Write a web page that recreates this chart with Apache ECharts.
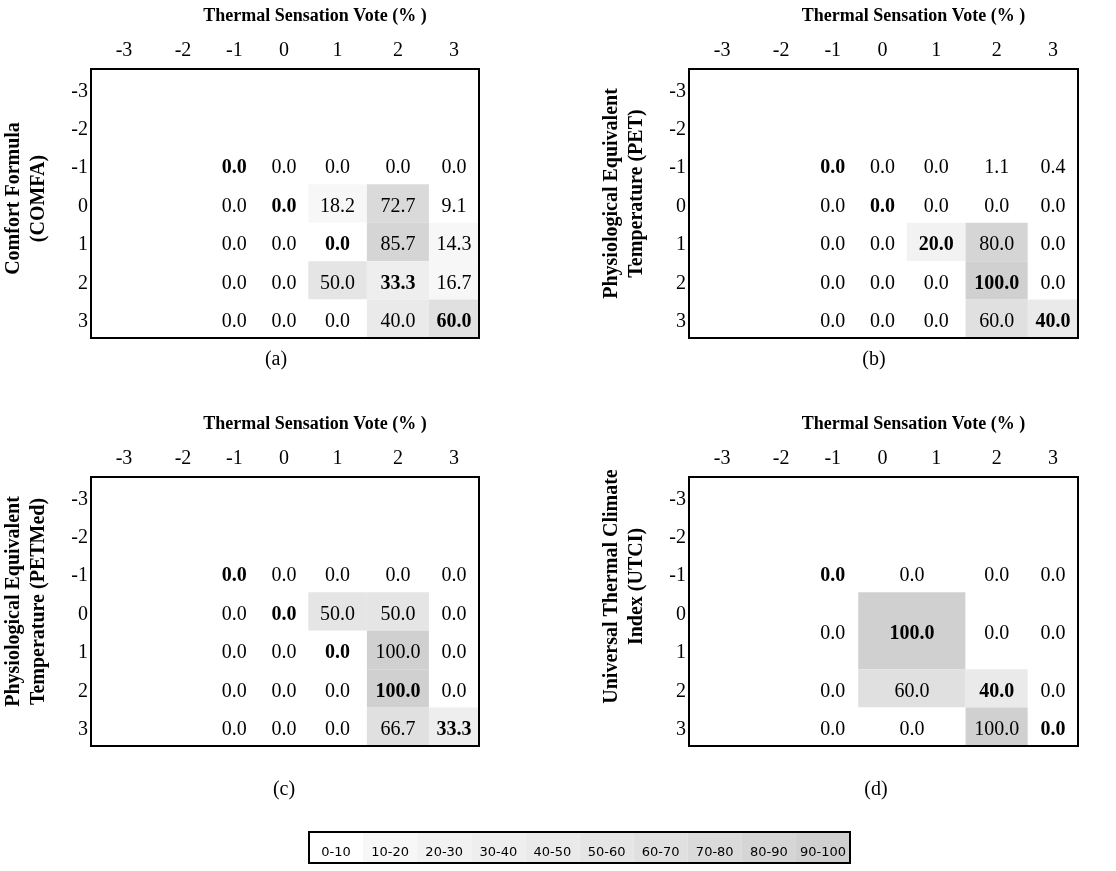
<!DOCTYPE html>
<html><head><meta charset="utf-8">
<script src="https://cdn.jsdelivr.net/npm/echarts@6/dist/echarts.min.js"></script>
<style>html,body{margin:0;padding:0;background:#fff}#c{width:1116px;height:871px}</style>
</head><body><div id="c"></div>
<script>
// ---------- DATA ----------
const xLabels = ['-3', '-2', '-1', '0', '1', '2', '3'];
const yLabels = ['-3', '-2', '-1', '0', '1', '2', '3'];
const xTitle = 'Thermal Sensation Vote (% )';
const yTitles = ['Comfort Formula\n(COMFA)', 'Physiological Equivalent\nTemperature (PET)',
  'Physiological Equivalent\nTemperature (PETMed)', 'Universal Thermal Climate\nIndex (UTCI)'];
const panelTags = ['(a)', '(b)', '(c)', '(d)'];
// matrices: rows = index vote -1..3 (top to bottom), cols = TSV -1..3
const matrixLabels = ['-1', '0', '1', '2', '3'];
const comfa = [
  [0.0, 0.0, 0.0, 0.0, 0.0],
  [0.0, 0.0, 18.2, 72.7, 9.1],
  [0.0, 0.0, 0.0, 85.7, 14.3],
  [0.0, 0.0, 50.0, 33.3, 16.7],
  [0.0, 0.0, 0.0, 40.0, 60.0]
];
const pet = [
  [0.0, 0.0, 0.0, 1.1, 0.4],
  [0.0, 0.0, 0.0, 0.0, 0.0],
  [0.0, 0.0, 20.0, 80.0, 0.0],
  [0.0, 0.0, 0.0, 100.0, 0.0],
  [0.0, 0.0, 0.0, 60.0, 40.0]
];
const petmed = [
  [0.0, 0.0, 0.0, 0.0, 0.0],
  [0.0, 0.0, 50.0, 50.0, 0.0],
  [0.0, 0.0, 0.0, 100.0, 0.0],
  [0.0, 0.0, 0.0, 100.0, 0.0],
  [0.0, 0.0, 0.0, 66.7, 33.3]
];
// UTCI has merged categories: [tsvFrom, tsvTo, utciFrom, utciTo, value]
const utci = [
  ['-1', '-1', '-1', '-1', 0.0], ['0', '1', '-1', '-1', 0.0], ['2', '2', '-1', '-1', 0.0], ['3', '3', '-1', '-1', 0.0],
  ['-1', '-1', '0', '1', 0.0], ['0', '1', '0', '1', 100.0], ['2', '2', '0', '1', 0.0], ['3', '3', '0', '1', 0.0],
  ['-1', '-1', '2', '2', 0.0], ['0', '1', '2', '2', 60.0], ['2', '2', '2', '2', 40.0], ['3', '3', '2', '2', 0.0],
  ['-1', '-1', '3', '3', 0.0], ['0', '1', '3', '3', 0.0], ['2', '2', '3', '3', 100.0], ['3', '3', '3', '3', 0.0]
];
const legendLabels = ['0-10', '10-20', '20-30', '30-40', '40-50', '50-60', '60-70', '70-80', '80-90', '90-100'];

// ---------- LAYOUT / STYLE ----------
const COL_FRAC = [0.170, 0.134, 0.131, 0.125, 0.151, 0.160, 0.129]; // relative column widths
const SHADES = ['#ffffff', '#f7f7f7', '#f2f2f2', '#eeeeee', '#eaeaea', '#e5e5e5', '#e0e0e0', '#dadada', '#d5d5d5', '#d0d0d0'];
const SERIF = '"Liberation Serif", "Times New Roman", serif';
const PANELS = [
  { left: 90, top: 69, titleShift: 5 },
  { left: 689, top: 69, titleShift: 10 },
  { left: 90, top: 477, titleShift: 10 },
  { left: 689, top: 477, titleShift: 25 }
];
const GW = 389, GH = 269;
const TAG_POS = [[276, 360], [874, 360], [284, 790], [876, 790]];
const TEXT_DY = 3;

const edges = [0];
COL_FRAC.forEach(w => edges.push(edges[edges.length - 1] + w));
const centers = COL_FRAC.map((w, i) => edges[i] + w / 2);
function shadeOf(v) { return SHADES[Math.min(9, Math.floor(v / 10))]; }

function cellsFromMatrix(m) {
  const out = [];
  m.forEach((row, r) => row.forEach((v, c) => {
    out.push([matrixLabels[c], matrixLabels[c], matrixLabels[r], matrixLabels[r], v]);
  }));
  return out;
}
function toSeriesData(cells) {
  return cells.map(([c0, c1, r0, r1, v]) => {
    const ci0 = xLabels.indexOf(c0), ci1 = xLabels.indexOf(c1);
    const ri0 = yLabels.indexOf(r0), ri1 = yLabels.indexOf(r1);
    const bold = (ci0 <= ri1 && ri0 <= ci1) ? 1 : 0; // cell spans the diagonal
    return [edges[ci0], edges[ci1 + 1], ri0, ri1 + 1, v, bold];
  });
}
const panelCells = [cellsFromMatrix(comfa), cellsFromMatrix(pet), cellsFromMatrix(petmed), utci];

function renderCell(params, api) {
  const p0 = api.coord([api.value(0), api.value(2)]);
  const p1 = api.coord([api.value(1), api.value(3)]);
  const v = api.value(4), bold = api.value(5);
  const x = Math.min(p0[0], p1[0]), y = Math.min(p0[1], p1[1]);
  const w = Math.abs(p1[0] - p0[0]), h = Math.abs(p1[1] - p0[1]);
  return {
    type: 'group',
    children: [
      { type: 'rect', shape: { x, y, width: w, height: h }, style: { fill: shadeOf(v) } },
      { type: 'text', x: x + w / 2, y: y + h / 2 + TEXT_DY,
        style: { text: v.toFixed(1), fill: '#000', align: 'center', verticalAlign: 'middle',
          font: (bold ? 'bold ' : '') + '20px ' + SERIF } }
    ]
  };
}

const grid = [], xAxis = [], yAxis = [], series = [], graphic = [];
PANELS.forEach((p, i) => {
  grid.push({ left: p.left, top: p.top, width: GW, height: GH, show: true, z: 5,
    backgroundColor: 'transparent', borderColor: '#000', borderWidth: 2 });
  xAxis.push({
    type: 'value', gridIndex: i, position: 'top', min: 0, max: 1,
    axisLine: { show: false }, axisTick: { show: false }, splitLine: { show: false },
    axisLabel: { customValues: centers, margin: 8, color: '#000', fontSize: 20, fontFamily: SERIF,
      formatter: v => { let b = 0; centers.forEach((c, k) => { if (Math.abs(c - v) < Math.abs(centers[b] - v)) b = k; }); return xLabels[b]; } },
    name: xTitle, nameLocation: 'middle', nameGap: 44, nameMoveOverlap: false,
    nameTextStyle: { color: '#000', fontWeight: 'bold', fontSize: 18, fontFamily: SERIF, padding: [0, 0, 0, 60] }
  });
  yAxis.push({
    type: 'value', gridIndex: i, inverse: true, min: 0, max: 7,
    axisLine: { show: false }, axisTick: { show: false }, splitLine: { show: false },
    axisLabel: { customValues: yLabels.map((_, k) => k + 0.58), margin: 3, color: '#000', fontSize: 20, fontFamily: SERIF,
      formatter: v => yLabels[Math.floor(v)] },
    name: yTitles[i], nameLocation: 'middle', nameRotate: 90, nameGap: 40, nameMoveOverlap: false,
    nameTextStyle: { color: '#000', fontWeight: 'bold', fontSize: 20, lineHeight: 25, fontFamily: SERIF,
      padding: [0, 0, 0, 2 * p.titleShift] }
  });
  series.push({ type: 'custom', xAxisIndex: i, yAxisIndex: i, renderItem: renderCell,
    data: toSeriesData(panelCells[i]), clip: false, silent: true });
  graphic.push({ type: 'text', x: TAG_POS[i][0], y: TAG_POS[i][1],
    style: { text: panelTags[i], font: '20px ' + SERIF, fill: '#000', align: 'center', verticalAlign: 'middle' } });
});

// colour key as its own small grid
grid.push({ left: 309, top: 832, width: 541, height: 31, show: true, z: 5,
  backgroundColor: 'transparent', borderColor: '#000', borderWidth: 2 });
xAxis.push({ type: 'category', gridIndex: 4, data: legendLabels, show: false });
yAxis.push({ type: 'value', gridIndex: 4, min: 0, max: 1, show: false });
series.push({
  type: 'custom', xAxisIndex: 4, yAxisIndex: 4, silent: true,
  data: legendLabels.map((l, k) => [k, k * 10 + 5]),
  renderItem: (params, api) => {
    const c = api.coord([api.value(0), 1]);
    const c0 = api.coord([api.value(0), 0]);
    const bw = api.size([1, 0])[0];
    return { type: 'group', children: [
      { type: 'rect', shape: { x: c[0] - bw / 2, y: c[1], width: bw, height: c0[1] - c[1] }, style: { fill: shadeOf(api.value(1)) } },
      { type: 'text', x: c[0], y: c[1] + (c0[1] - c[1]) * 0.65,
        style: { text: legendLabels[api.value(0)], fill: '#000', align: 'center', verticalAlign: 'middle',
          font: '13px "DejaVu Sans", sans-serif' } }
    ] };
  }
});

const chart = echarts.init(document.getElementById('c'), null, { renderer: 'canvas' });
chart.setOption({ animation: false, backgroundColor: '#fff', grid, xAxis, yAxis, series, graphic });
</script></body></html>
